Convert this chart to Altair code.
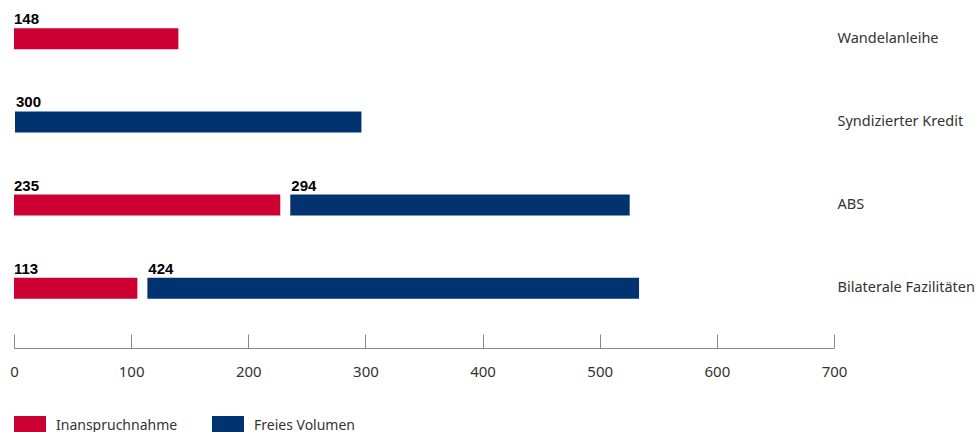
import altair as alt
import pandas as pd

categories = ["Wandelanleihe", "Syndizierter Kredit", "ABS", "Bilaterale Fazilitäten"]
inanspruchnahme = [148, 0, 235, 113]
freies_volumen = [0, 300, 294, 424]
series = ["Inanspruchnahme", "Freies Volumen"]
colors = ["#CC0033", "#003370"]
x_ticks = [0, 100, 200, 300, 400, 500, 600, 700]

rows = []
for c, a, b in zip(categories, inanspruchnahme, freies_volumen):
    if a:
        rows.append(dict(cat=c, series=series[0], start=0, end=a, value=a))
    if b:
        rows.append(dict(cat=c, series=series[1], start=a, end=a + b, value=b))
df = pd.DataFrame(rows)

FONT = "Noto Sans"
xscale = alt.Scale(domain=[0, 700], nice=False, zero=True)
yscale = alt.Scale(paddingInner=0.07, paddingOuter=0)

y_axis = alt.Axis(orient="right", title=None, domain=False, ticks=False, grid=False,
                  labelFont=FONT, labelFontSize=14.5, labelColor="#333333",
                  labelPadding=3, labelLimit=500, labelAlign="left")

bottom_axis = alt.Axis(orient="bottom", values=x_ticks, title=None, grid=False,
                       ticks=False, tickSize=0, domain=True, domainColor="#888888",
                       domainWidth=1, offset=21, labelPadding=16, labelFont=FONT,
                       labelFontSize=15, labelColor="#333333", labelBaseline="top",
                       labelFlush=False, labelOverlap=False)

tick_axis = alt.Axis(orient="top", values=x_ticks, title=None, grid=False,
                     ticks=True, tickSize=14, tickColor="#888888", tickWidth=1,
                     domain=False, labels=False, offset=-348)

legend = alt.Legend(orient="none", legendX=0, legendY=410, direction="horizontal",
                    title=None, symbolType="M-1,-0.625H1V0.625H-1Z", symbolSize=1024,
                    symbolStrokeWidth=0, symbolOpacity=1, labelFont=FONT,
                    labelFontSize=14, labelColor="#333333", labelOffset=10,
                    columnPadding=34, padding=0, labelLimit=300)

color = alt.Color("series:N", scale=alt.Scale(domain=series, range=colors), legend=legend)
ycat = alt.Y("cat:N", sort=categories, scale=yscale, axis=y_axis)

base = alt.Chart(df)

red_bars = base.transform_filter(alt.datum.series == series[0]).mark_bar(
    size=21, x2Offset=-9).encode(
    x=alt.X("start:Q", scale=xscale, axis=bottom_axis),
    x2="end:Q", y=ycat, color=color)

blue_bars = base.transform_filter(alt.datum.series == series[1]).mark_bar(
    size=21, xOffset=1, x2Offset=-4).encode(
    x=alt.X("start:Q", scale=xscale, axis=None),
    x2="end:Q", y=ycat, color=color)

red_text = base.transform_filter(alt.datum.series == series[0]).mark_text(
    align="left", baseline="alphabetic", dy=-14.5, font="Liberation Sans",
    fontWeight="bold", fontSize=15, color="#000000").encode(
    x=alt.X("start:Q", scale=xscale, axis=tick_axis),
    y=ycat, text="value:Q")

blue_text = base.transform_filter(alt.datum.series == series[1]).mark_text(
    align="left", baseline="alphabetic", dy=-14.5, dx=2, font="Liberation Sans",
    fontWeight="bold", fontSize=15, color="#000000").encode(
    x=alt.X("start:Q", scale=xscale, axis=None),
    y=ycat, text="value:Q")

chart = alt.layer(red_bars, blue_bars, red_text, blue_text).resolve_axis(
    x="independent").properties(
    width=820, height=327,
    padding={"left": 14, "top": 0, "right": 144, "bottom": 105},
    autosize="none", background="white"
).configure_view(stroke=None)

chart.save("out.html", embed_options={"renderer": "svg", "actions": False})
